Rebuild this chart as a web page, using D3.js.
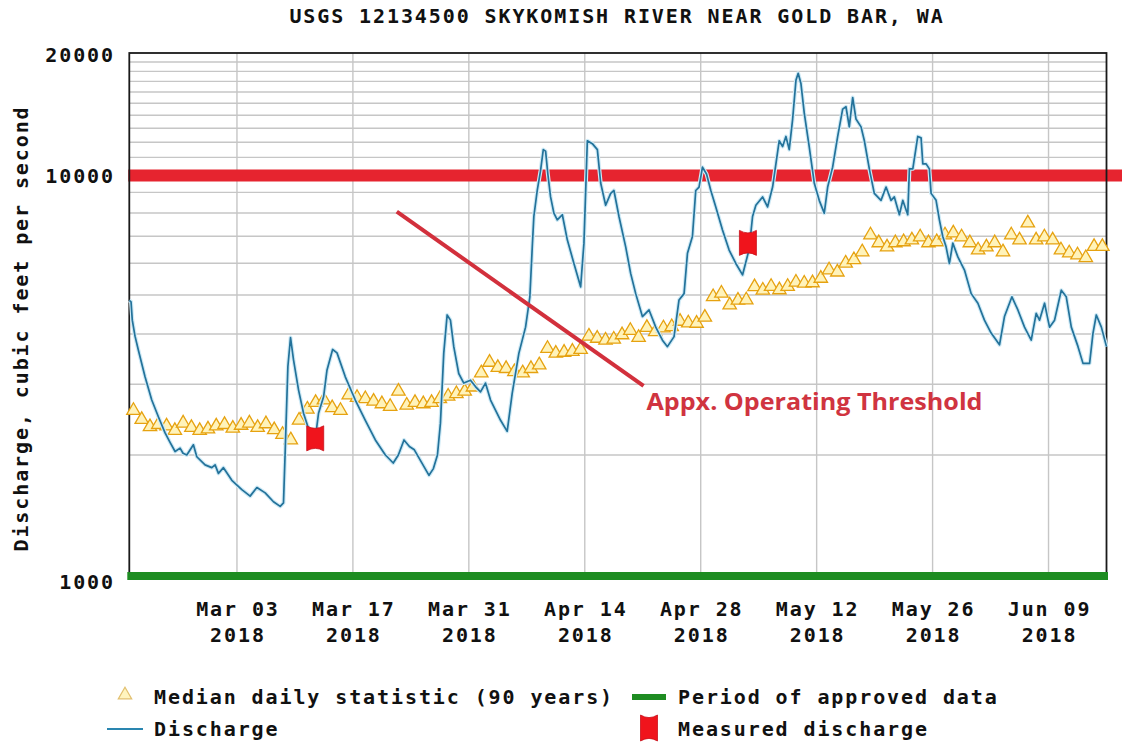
<!DOCTYPE html>
<html><head><meta charset="utf-8">
<script src="https://cdn.jsdelivr.net/npm/d3@7"></script>
<style>
html,body{margin:0;padding:0;background:#fff;}
svg{display:block;}
.mono{font-family:"DejaVu Sans Mono",monospace;font-weight:bold;fill:#111;font-size:20px;letter-spacing:1.9px;}
</style></head><body>
<svg id="chart" width="1122" height="746"></svg>
<script>
// ---------- DATA ----------
const chartTitle = "USGS 12134500 SKYKOMISH RIVER NEAR GOLD BAR, WA";
const yAxisTitle = "Discharge, cubic feet per second";
const startDate = "2018-02-18";
const endDate = "2018-06-16";
const xTickDates = ["2018-03-03","2018-03-17","2018-03-31","2018-04-14","2018-04-28","2018-05-12","2018-05-26","2018-06-09"];
const yTickLabels = [1000, 10000, 20000];
const yGridValues = [2000,3000,4000,5000,6000,7000,8000,9000,10000,11000,12000,13000,14000,15000,16000,17000,18000,19000];

// Median daily statistic (90 years), one value per day starting Feb 18 (cfs)
const medianDaily = [
 2580,2450,2350,2380,2360,2300,2400,2340,2300,2320,2360,2380,2330,2370,2400,2340,2390,2310,2250,2180,
 2440,2600,2700,2740,2620,2580,2820,2780,2760,2720,2680,2640,2880,2660,2700,2680,2700,2760,2800,2840,
 2880,2950,3200,3400,3300,3280,3220,3200,3280,3350,3680,3580,3600,3620,3660,3950,3900,3860,3880,3980,
 4080,3920,4150,4050,4140,4170,4300,4260,4250,4400,4950,5050,4720,4850,4860,5240,5140,5250,5150,5250,
 5380,5350,5360,5500,5770,5700,6000,6120,6400,7050,6740,6580,6740,6780,6850,6970,6740,6780,7050,7130,
 6970,6740,6470,6580,6740,6400,7050,6850,7550,6850,6970,6850,6470,6360,6290,6190,6600,6600
];

// Discharge: days since Feb 18 00:00 and discharge (cfs)
const dischargeDays = [
 0,0.21,0.36,0.69,1.09,1.90,2.71,3.51,4.32,4.92,5.53,6.13,6.49,6.94,7.74,8.15,9.15,9.96,10.36,10.76,
 11.37,12.38,13.59,14.59,15.41,16.41,17.41,18.22,18.62,18.83,19.15,19.47,19.83,20.44,21.04,21.57,22.09,22.58,22.85,23.46,
 23.87,24.55,25.08,26.08,27.29,28.50,29.71,30.92,31.87,32.49,33.17,33.82,34.42,35.27,36.19,36.72,37.21,37.57,37.97,38.38,
 38.78,39.18,39.78,40.39,41.20,41.80,42.41,43.01,43.62,44.83,45.63,46.24,47.04,47.85,48.37,48.66,48.85,49.26,49.66,49.99,
 50.27,50.54,50.87,51.27,51.68,52.29,52.89,53.69,54.50,54.90,55.31,55.91,56.52,56.92,57.52,58.13,58.52,59.13,59.94,60.54,
 61.15,61.96,62.76,63.57,64.38,64.98,65.78,66.38,66.99,67.40,68.00,68.40,68.80,69.21,69.70,70.22,70.82,71.63,72.43,73.24,
 74.05,74.85,75.26,75.66,76.47,77.07,77.68,78.08,78.48,78.89,79.29,79.69,80.10,80.50,80.77,81.10,81.50,82.10,82.71,83.31,
 83.92,84.33,84.93,85.54,86.14,86.54,86.94,87.35,87.75,88.36,88.76,89.36,89.96,90.77,91.38,91.98,92.38,92.99,93.40,94.00,
 94.20,94.61,95.21,95.61,95.82,96.22,96.61,96.82,97.42,97.82,98.23,98.63,99.03,99.44,100.05,100.85,101.66,102.47,103.26,104.07,
 105.08,105.68,106.58,107.30,108.10,108.91,109.51,109.91,110.52,111.12,111.73,112.54,113.14,113.75,114.56,115.16,115.96,116.37,116.77,117.38,
 118.0
];
const dischargeCfs = [
 4850,4810,4330,3950,3650,3130,2740,2490,2270,2150,2040,2080,2020,2000,2120,1980,1890,1860,1890,1800,
 1860,1730,1640,1580,1660,1610,1530,1490,1520,2060,3320,3920,3450,2900,2540,2350,2250,2300,2540,2790,
 3250,3660,3590,3130,2740,2440,2180,2000,1910,2000,2180,2100,2060,1920,1780,1850,2000,2400,3580,4460,
 4330,3720,3190,3020,3070,2960,2870,3020,2740,2440,2290,2850,3580,4160,4950,6590,7840,9100,10200,11500,
 11400,10000,8770,7990,7690,7920,6860,5990,5240,6730,12100,11900,11500,9500,8360,8950,9100,7840,6590,5660,
 5040,4420,4590,4160,3860,3720,3940,4860,5040,6350,6990,9100,9280,10400,10000,9100,8280,7260,6470,5990,
 5610,6500,7840,8360,8770,8280,9280,10600,12100,11700,12400,11500,13700,17100,17800,16800,14200,11700,9500,8600,
 7990,9280,10400,12400,14500,14700,13100,15500,13700,13100,12100,10300,8950,8600,9280,8600,8770,7920,8600,7920,
 10300,10300,12400,12300,10600,10600,10300,8950,8600,7690,6990,6590,5990,6730,6220,5770,5040,4770,4330,4020,
 3760,4420,4950,4590,4160,3860,4500,4330,4770,4160,4330,5140,4950,4160,3720,3380,3380,4020,4460,4160,
 3720
];

// Measured discharge (field measurements)
const measuredDays = [22.45, 74.7];
const measuredCfs = [2200, 6740];

// Annotation
const thresholdCfs = 10000;
const annotationText = "Appx. Operating Threshold";
const pointerDays = [32.3, 62.1];
const pointerCfs = [8060, 2970];
const annotationDay = 62.45;
const annotationCfs = 2590;

const legendRow1 = ["Median daily statistic (90 years)", "Period of approved data"];
const legendRow2 = ["Discharge", "Measured discharge"];

// ---------- CHART ----------
const svg = d3.select("#chart");
const parse = d3.utcParse("%Y-%m-%d");
const t0 = parse(startDate), t1 = parse(endDate);
const dayToDate = d => new Date(t0.getTime() + d * 864e5);

const x = d3.scaleUtc().domain([t0, t1]).range([129.3, 1106.5]);
const y = d3.scaleLog().domain([1000, 20000]).range([576, 53]);
const [x0, x1] = x.range();
const [yb, yt] = y.range();

const GRID = "#c6c6c6";
// horizontal grid
svg.append("g").selectAll("line").data(yGridValues).join("line")
  .attr("x1", x0).attr("x2", x1)
  .attr("y1", d => y(d)).attr("y2", d => y(d))
  .attr("stroke", GRID).attr("stroke-width", 1.4);
// vertical grid
svg.append("g").selectAll("line").data(xTickDates).join("line")
  .attr("x1", d => x(parse(d))).attr("x2", d => x(parse(d)))
  .attr("y1", yt).attr("y2", yb)
  .attr("stroke", GRID).attr("stroke-width", 1.4);

// threshold band (annotation)
svg.append("line")
  .attr("x1", x0 - 1).attr("x2", 1122)
  .attr("y1", y(thresholdCfs) + 1.5).attr("y2", y(thresholdCfs) + 1.5)
  .attr("stroke", "#e6242f").attr("stroke-width", 12);

// frame
svg.append("rect").attr("x", x0).attr("y", yt).attr("width", x1 - x0).attr("height", yb - yt)
  .attr("fill", "none").attr("stroke", "#1a1a1a").attr("stroke-width", 1.8);

// approved period bar
svg.append("line").attr("x1", x0 - 2).attr("x2", x1 + 1.5).attr("y1", yb).attr("y2", yb)
  .attr("stroke", "#1e8c22").attr("stroke-width", 8);

// median triangles
const tri = d3.symbol().type(d3.symbolTriangle).size(78);
svg.append("g").selectAll("path").data(medianDaily).join("path")
  .attr("d", tri)
  .attr("transform", (d, i) => `translate(${x(dayToDate(i + 0.5))},${y(d)})`)
  .attr("fill", "#fff3ba").attr("stroke", "#e6a210").attr("stroke-width", 1.3);

// discharge line
const dis = dischargeDays.map((d, i) => [d, dischargeCfs[i]]);
const line = d3.line().x(d => x(dayToDate(d[0]))).y(d => y(d[1]));
svg.append("path").datum(dis).attr("d", line).attr("fill", "none")
  .attr("stroke", "#cfeaf6").attr("stroke-width", 4).attr("stroke-linejoin", "round");
svg.append("path").datum(dis).attr("d", line).attr("fill", "none")
  .attr("stroke", "#23729a").attr("stroke-width", 1.7).attr("stroke-linejoin", "round");

// measured discharge markers
const markerPath = (w, h) => {
  const a = w / 2, b = h / 2, c = h * 0.2;
  return `M${-a},${-b} Q0,${-b + c} ${a},${-b} L${a},${b} Q0,${b - c} ${-a},${b} Z`;
};
svg.append("g").selectAll("path").data(measuredDays).join("path")
  .attr("d", markerPath(17, 25))
  .attr("transform", (d, i) => `translate(${x(dayToDate(d))},${y(measuredCfs[i])})`)
  .attr("fill", "#f0141c").attr("stroke", "#c8101a").attr("stroke-width", 0.8);

// pointer line
svg.append("line")
  .attr("x1", x(dayToDate(pointerDays[0]))).attr("y1", y(pointerCfs[0]))
  .attr("x2", x(dayToDate(pointerDays[1]))).attr("y2", y(pointerCfs[1]))
  .attr("stroke", "#d2303c").attr("stroke-width", 4);
svg.append("text")
  .attr("x", x(dayToDate(annotationDay))).attr("y", y(annotationCfs))
  .attr("font-family", "Open Sans, sans-serif").attr("font-weight", "bold")
  .attr("font-size", 23).attr("fill", "#d03440")
  .attr("textLength", 336).attr("lengthAdjust", "spacingAndGlyphs")
  .text(annotationText);

// title
svg.append("text").attr("class", "mono").attr("x", 617).attr("y", 22.5)
  .attr("text-anchor", "middle").text(chartTitle);

// y tick labels
svg.append("g").selectAll("text").data(yTickLabels).join("text")
  .attr("class", "mono").attr("text-anchor", "end")
  .attr("x", 115).attr("y", d => y(d) + (d === y.domain()[0] ? 13 : 8.5))
  .text(d => String(d));

// y axis title
svg.append("text").attr("class", "mono")
  .attr("transform", `translate(28,${(yt + yb) / 2 + 14}) rotate(-90)`)
  .attr("text-anchor", "middle").text(yAxisTitle);

// x tick labels
const fmtTop = d3.utcFormat("%b %d"), fmtBot = d3.utcFormat("%Y");
const xl = svg.append("g").selectAll("g").data(xTickDates).join("g")
  .attr("transform", d => `translate(${x(parse(d)) + 1},0)`);
xl.append("text").attr("class", "mono").attr("text-anchor", "middle").attr("y", 616).text(d => fmtTop(parse(d)));
xl.append("text").attr("class", "mono").attr("text-anchor", "middle").attr("y", 642).text(d => fmtBot(parse(d)));

// legend
const lg = svg.append("g");
lg.append("path").attr("d", tri).attr("transform", "translate(125,695)")
  .attr("fill", "#fff4bf").attr("stroke", "#e2c070").attr("stroke-width", 1.2);
lg.append("text").attr("class", "mono").attr("x", 154).attr("y", 704).text(legendRow1[0]);
lg.append("rect").attr("x", 632).attr("y", 694).attr("width", 34).attr("height", 6).attr("fill", "#1e8c22");
lg.append("text").attr("class", "mono").attr("x", 678).attr("y", 704).text(legendRow1[1]);
lg.append("line").attr("x1", 107).attr("x2", 143).attr("y1", 729).attr("y2", 729)
  .attr("stroke", "#2a86b0").attr("stroke-width", 1.8);
lg.append("text").attr("class", "mono").attr("x", 154).attr("y", 736).text(legendRow2[0]);
lg.append("path").attr("d", markerPath(17, 26)).attr("transform", "translate(649,728)")
  .attr("fill", "#f0141c").attr("stroke", "#c8101a").attr("stroke-width", 0.8);
lg.append("text").attr("class", "mono").attr("x", 678).attr("y", 736).text(legendRow2[1]);
</script>
</body></html>
